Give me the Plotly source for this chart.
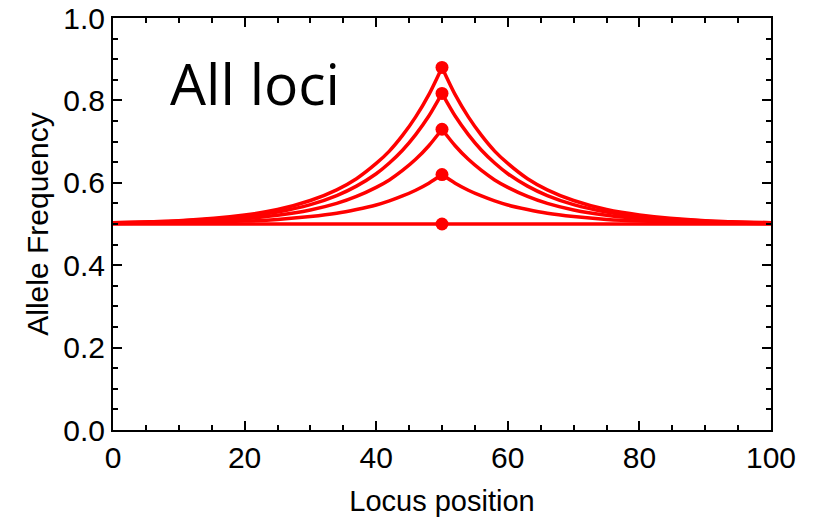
import plotly.graph_objects as go

# Locus positions at which the curves were read
positions = [0, 10, 20, 25, 30, 34, 37, 40, 42, 44, 46, 48, 50,
             52, 54, 56, 58, 60, 63, 66, 70, 75, 80, 90, 100]

# Allele frequency curves
curve_a = [0.503, 0.508, 0.522, 0.535, 0.557, 0.583, 0.610, 0.647, 0.677, 0.715, 0.760, 0.814, 0.880,
           0.814, 0.760, 0.715, 0.677, 0.647, 0.610, 0.583, 0.557, 0.535, 0.522, 0.508, 0.503]
curve_b = [0.503, 0.507, 0.518, 0.529, 0.547, 0.569, 0.592, 0.622, 0.648, 0.679, 0.717, 0.762, 0.817,
           0.762, 0.717, 0.679, 0.648, 0.622, 0.592, 0.569, 0.547, 0.529, 0.518, 0.507, 0.503]
curve_c = [0.502, 0.505, 0.513, 0.521, 0.534, 0.550, 0.567, 0.589, 0.607, 0.630, 0.657, 0.690, 0.730,
           0.690, 0.657, 0.630, 0.607, 0.589, 0.567, 0.550, 0.534, 0.521, 0.513, 0.505, 0.502]
curve_d = [0.501, 0.503, 0.507, 0.511, 0.518, 0.526, 0.535, 0.546, 0.556, 0.568, 0.582, 0.599, 0.620,
           0.599, 0.582, 0.568, 0.556, 0.546, 0.535, 0.526, 0.518, 0.511, 0.507, 0.503, 0.501]
curve_e = [0.5] * len(positions)

peak_position = 50
x_ticks = [0, 20, 40, 60, 80, 100]
y_ticks = [0.0, 0.2, 0.4, 0.6, 0.8, 1.0]
y_tick_text = ["0.0", "0.2", "0.4", "0.6", "0.8", "1.0"]

RED = "#ff0000"
fig = go.Figure()

peak_idx = positions.index(peak_position)
curves = [curve_a, curve_b, curve_c, curve_d, curve_e]
for c in curves:
    fig.add_trace(go.Scatter(x=positions[:peak_idx + 1], y=c[:peak_idx + 1], mode="lines",
                             line=dict(color=RED, width=3.5, shape="spline", smoothing=0.8),
                             showlegend=False, hoverinfo="skip"))
    fig.add_trace(go.Scatter(x=positions[peak_idx:], y=c[peak_idx:], mode="lines",
                             line=dict(color=RED, width=3.5, shape="spline", smoothing=0.8),
                             showlegend=False, hoverinfo="skip"))

fig.add_trace(go.Scatter(x=[peak_position] * len(curves), y=[c[peak_idx] for c in curves],
                         mode="markers", marker=dict(color=RED, size=13),
                         showlegend=False, hoverinfo="skip"))

font_family = "Liberation Sans, Arial, sans-serif"
fig.update_layout(
    width=814, height=519,
    margin=dict(l=113, r=43, t=18, b=89, autoexpand=False),
    paper_bgcolor="white", plot_bgcolor="white",
    font=dict(family=font_family, size=30, color="black"),
    xaxis=dict(range=[0, 100], tickvals=x_ticks, ticks="inside", ticklen=9, tickwidth=2,
               tickcolor="black", showline=True, linecolor="black", linewidth=2, mirror="allticks",
               showgrid=False, zeroline=False, automargin=False,
               minor=dict(dtick=5, ticks="inside", ticklen=5, tickwidth=2, tickcolor="black", showgrid=False),
               title=dict(text="Locus position", font=dict(size=29), standoff=18),
               tickfont=dict(size=30)),
    yaxis=dict(range=[0, 1.0], tickvals=y_ticks, ticktext=y_tick_text, ticks="inside", ticklen=9, tickwidth=2,
               tickcolor="black", showline=True, linecolor="black", linewidth=2, mirror="allticks",
               showgrid=False, zeroline=False, automargin=False,
               minor=dict(dtick=0.05, ticks="inside", ticklen=5, tickwidth=2, tickcolor="black", showgrid=False),
               title=dict(text="Allele Frequency", font=dict(size=30), standoff=6),
               tickfont=dict(size=30)),
)

fig.add_annotation(text="All loci", xref="paper", yref="paper", x=0.083, y=0.842,
                   xanchor="left", yanchor="middle", showarrow=False,
                   font=dict(family="Open Sans, sans-serif", size=57, color="black"))

fig.write_html("out.html")
